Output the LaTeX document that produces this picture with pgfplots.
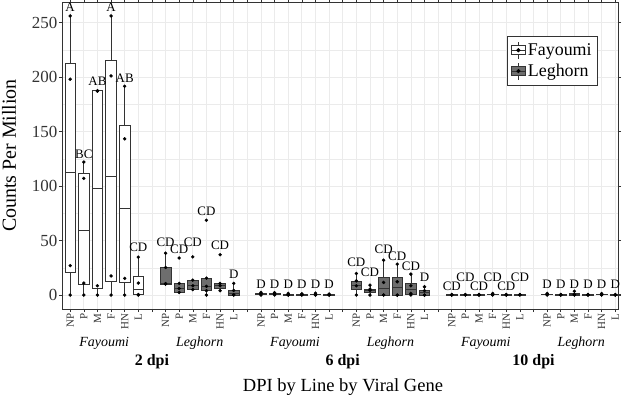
\documentclass[border=0pt]{standalone}
\usepackage{fontspec}
\setmainfont{Liberation Serif}
\usepackage{pgfplots}
\pgfplotsset{compat=1.18}
\usepgfplotslibrary{statistics}
\definecolor{gridc}{HTML}{EBEBEB}
\definecolor{boxc}{HTML}{333333}
\definecolor{legfill}{HTML}{6E6E6E}
\definecolor{txtc}{HTML}{333333}
\pgfplotsset{
  fbox/.style={draw=boxc, line width=0.7bp, fill=white, solid, mark=none},
  lbox/.style={draw=boxc, line width=0.7bp, fill=legfill, solid, mark=none},
  pts/.style={only marks, mark=*, mark size=1.5bp, black, mark options={fill=black, draw=black}},
}
% style, position, lower whisker, lower quartile, median, upper quartile, upper whisker
\newcommand{\bx}[7]{%
  \addplot[#1, boxplot/draw direction=y, boxplot prepared={draw position=#2, lower whisker=#3, lower quartile=#4,
    median=#5, upper quartile=#6, upper whisker=#7, box extend=0.78, whisker extend=0,
    every median/.style={line width=1.1bp}}] coordinates {};
}
\begin{document}
\begin{tikzpicture}
\begin{axis}[
  scale only axis, width=556bp, height=307bp,
  xmin=-0.6, xmax=40.2, ymin=-12.8, ymax=268.8,
  clip=false,
  axis line style={draw=boxc, line width=0.8bp},
  xtick={0,...,40},
  xticklabels={NP,P,M,F,HN,L,{},NP,P,M,F,HN,L,{},NP,P,M,F,HN,L,{},NP,P,M,F,HN,L,{},NP,P,M,F,HN,L,{},NP,P,M,F,HN,L},
  ytick={0,50,100,150,200,250},
  minor ytick={25,75,125,175,225},
  tick align=outside, major tick length=3bp, minor tick length=0bp,
  tick style={draw=boxc, line width=0.6bp},
  xmajorgrids, ymajorgrids, yminorgrids,
  major grid style={draw=gridc, line width=0.7bp},
  minor grid style={draw=gridc, line width=0.4bp},
  /pgf/number format/assume math mode=true,
  xticklabel style={rotate=90, anchor=east, font=\fontsize{11}{11}\selectfont, text=txtc, inner sep=1.5bp},
  yticklabel style={font=\fontsize{17}{17}\selectfont, text=txtc, inner sep=1.5bp},
  legend style={at={(0.964,0.889)}, anchor=north east,
    draw=boxc, line width=0.7bp, font=\fontsize{18}{20}\selectfont, inner xsep=4bp, inner ysep=5bp,
    row sep=3bp, /tikz/every even column/.append style={column sep=2bp}},
  legend cell align=left,
]
\addlegendimage{legend image code/.code={
  \draw[draw=boxc, line width=0.7bp] (8bp,-8.5bp) -- (8bp,8.5bp);
  \draw[draw=boxc, line width=0.7bp, fill=white] (1bp,-4.5bp) rectangle (15bp,4.5bp);
  \draw[draw=boxc, line width=1bp] (1bp,0bp) -- (15bp,0bp);
  \fill[black] (8bp,0bp) circle (1.7bp);}}
\addlegendentry{Fayoumi}
\addlegendimage{legend image code/.code={
  \draw[draw=boxc, line width=0.7bp] (8bp,-8.5bp) -- (8bp,8.5bp);
  \draw[draw=boxc, line width=0.7bp, fill=legfill] (1bp,-4.5bp) rectangle (15bp,4.5bp);
  \draw[draw=boxc, line width=1bp] (1bp,0bp) -- (15bp,0bp);
  \fill[black] (8bp,0bp) circle (1.7bp);}}
\addlegendentry{Leghorn}

% ---- 2 dpi Fayoumi
\bx{fbox}{0}{0}{20.5}{112.7}{212.8}{256}
\bx{fbox}{1}{0}{9.5}{59.5}{111.3}{122}
\bx{fbox}{2}{0}{6.4}{97.6}{187.4}{187.6}
\bx{fbox}{3}{0}{13}{109}{215}{256}
\bx{fbox}{4}{0}{11.6}{79.3}{155.5}{191.5}
\bx{fbox}{5}{0}{0.5}{5.5}{17}{34.8}
% ---- 2 dpi Leghorn
\bx{lbox}{7}{10}{10.2}{11}{25.3}{38.4}
\bx{lbox}{8}{2.4}{2.4}{6}{10.7}{10.7}
\bx{lbox}{9}{5}{5.5}{8.5}{13.7}{13.7}
\bx{lbox}{10}{0}{4}{8}{15.5}{15.5}
\bx{lbox}{11}{4}{6}{8.5}{10.7}{10.7}
\bx{lbox}{12}{0}{0}{1.5}{4.2}{10.7}
% ---- 6 dpi Fayoumi
\bx{fbox}{14}{0}{0.5}{1}{1.8}{2.5}
\bx{fbox}{15}{0}{0.4}{0.9}{1.6}{2.2}
\bx{fbox}{16}{0}{0.1}{0.3}{0.6}{1.5}
\bx{fbox}{17}{0}{0.1}{0.3}{0.5}{1.2}
\bx{fbox}{18}{0}{0.2}{0.5}{1.0}{1.8}
\bx{fbox}{19}{0}{0}{0.2}{0.4}{1.0}
% ---- 6 dpi Leghorn
\bx{lbox}{21}{0}{4.8}{8.5}{13}{19.8}
\bx{lbox}{22}{0}{2.4}{4}{5.5}{9.1}
\bx{lbox}{23}{0}{0}{5.8}{16.2}{32}
\bx{lbox}{24}{0}{0}{7}{16.2}{28.4}
\bx{lbox}{25}{0}{1}{5.5}{10.7}{19.2}
\bx{lbox}{26}{0}{0}{2.4}{4}{7.6}
% ---- 10 dpi Fayoumi
\bx{fbox}{28}{0}{0}{0.1}{0.3}{0.6}
\bx{fbox}{29}{0}{0}{0.1}{0.3}{0.6}
\bx{fbox}{30}{0}{0}{0.1}{0.3}{0.6}
\bx{fbox}{31}{0}{0.2}{0.5}{1.0}{1.5}
\bx{fbox}{32}{0}{0}{0.1}{0.3}{0.6}
\bx{fbox}{33}{0}{0}{0.1}{0.3}{0.6}
% ---- 10 dpi Leghorn
\bx{lbox}{35}{0}{0.2}{0.5}{1.0}{1.5}
\bx{lbox}{36}{0}{0}{0.1}{0.3}{0.6}
\bx{lbox}{37}{0}{0.1}{0.3}{1.2}{3.5}
\bx{lbox}{38}{0}{0}{0.1}{0.3}{0.6}
\bx{lbox}{39}{0}{0.2}{0.4}{0.9}{1.4}
\bx{lbox}{40}{0}{0}{0.1}{0.3}{0.6}

% ---- data points
\addplot[pts] coordinates {
 (0,0) (0,27) (0,198) (0,256)
 (1,0) (1,11) (1,107) (1,122)
 (2,0) (2,8.5) (2,187) (2,187.5)
 (3,0) (3,17.5) (3,201) (3,256)
 (4,0) (4,15.3) (4,143.3) (4,191.5)
 (5,0) (5,0.5) (5,11) (5,34.8)
};
\addplot[pts] coordinates {
 (7,10) (7,10.5) (7,25.3) (7,38.4)
 (8,2.4) (8,6) (8,10.7) (8,34)
 (9,5) (9,8.5) (9,13.7) (9,35)
 (10,0) (10,4) (10,8) (10,15.5) (10,68.6)
 (11,4) (11,8.5) (11,10.7) (11,37)
 (12,0) (12,0.3) (12,4.2) (12,10.7)
};
\addplot[pts] coordinates {
 (14,0) (14,1) (14,1.5) (14,2.5)
 (15,0) (15,0.8) (15,1.4) (15,2.2)
 (16,0) (16,0.2) (16,0.5) (16,1.5)
 (17,0) (17,0.2) (17,0.5) (17,1.2)
 (18,0) (18,0.4) (18,0.8) (18,1.8)
 (19,0) (19,0.1) (19,0.3) (19,1.0)
};
\addplot[pts] coordinates {
 (21,0) (21,8.5) (21,13) (21,19.8)
 (22,0) (22,4) (22,5.5) (22,9.1)
 (23,0) (23,0) (23,11.6) (23,32)
 (24,0) (24,0) (24,12.2) (24,28.4)
 (25,0) (25,1.5) (25,8.5) (25,19.2)
 (26,0) (26,0) (26,4) (26,7.6)
};
\addplot[pts] coordinates {
 (28,0) (28,0.2) (28,0.5)
 (29,0) (29,0.2) (29,0.5)
 (30,0) (30,0.2) (30,0.5)
 (31,0) (31,0.3) (31,0.8) (31,1.5)
 (32,0) (32,0.2) (32,0.5)
 (33,0) (33,0.2) (33,0.5)
};
\addplot[pts] coordinates {
 (35,0) (35,0.3) (35,0.8) (35,1.5)
 (36,0) (36,0.2) (36,0.5)
 (37,0) (37,0.2) (37,0.5) (37,3.5)
 (38,0) (38,0.2) (38,0.5)
 (39,0) (39,0.3) (39,0.6) (39,1.4)
 (40,0) (40,0.2) (40,0.5)
};

% ---- significance letters
\addplot[only marks, mark=none, nodes near coords, point meta=explicit symbolic,
  nodes near coords style={anchor=center, font=\fontsize{13}{13}\selectfont, text=black, inner sep=0pt}]
coordinates {
 (0,264)[A] (1,129)[BC] (2,196)[AB] (3,264)[A] (4,198.5)[AB] (5,43.6)[CD]
 (7,48.8)[CD] (8,42)[CD] (9,48.8)[CD] (10,77)[CD] (11,46)[CD] (12,19)[D]
 (14,10)[D] (15,10)[D] (16,10)[D] (17,10)[D] (18,10)[D] (19,10)[D]
 (21,30.5)[CD] (22,20.7)[CD] (23,42)[CD] (24,36)[CD] (25,26)[CD] (26,16)[D]
 (28,8.5)[CD] (29,16.5)[CD] (30,8.5)[CD] (31,16.5)[CD] (32,8.5)[CD] (33,16.5)[CD]
 (35,10)[D] (36,10)[D] (37,10)[D] (38,10)[D] (39,10)[D] (40,10)[D]
};

% ---- group labels
\node[font=\itshape\fontsize{14}{14}\selectfont, yshift=-34bp] at (axis cs:2.5,-12.8) {Fayoumi};
\node[font=\itshape\fontsize{14}{14}\selectfont, yshift=-34bp] at (axis cs:16.5,-12.8) {Fayoumi};
\node[font=\itshape\fontsize{14}{14}\selectfont, yshift=-34bp] at (axis cs:30.5,-12.8) {Fayoumi};
\node[font=\itshape\fontsize{14}{14}\selectfont, yshift=-34bp] at (axis cs:9.5,-12.8) {Leghorn};
\node[font=\itshape\fontsize{14}{14}\selectfont, yshift=-34bp] at (axis cs:23.5,-12.8) {Leghorn};
\node[font=\itshape\fontsize{14}{14}\selectfont, yshift=-34bp] at (axis cs:37.5,-12.8) {Leghorn};
\node[font=\bfseries\fontsize{16}{16}\selectfont, yshift=-52.7bp] at (axis cs:6,-12.8) {2 dpi};
\node[font=\bfseries\fontsize{16}{16}\selectfont, yshift=-52.7bp] at (axis cs:20,-12.8) {6 dpi};
\node[font=\bfseries\fontsize{16}{16}\selectfont, yshift=-52.7bp] at (axis cs:34,-12.8) {10 dpi};
\node[font=\fontsize{18.6}{19}\selectfont, yshift=-78bp, xshift=3bp] at (rel axis cs:0.5,0) {DPI by Line by Viral Gene};
\node[font=\fontsize{20}{20}\selectfont, rotate=90] at ([xshift=-53bp]rel axis cs:0,0.5) {Counts Per Million};
\end{axis}
\pgfresetboundingbox
\path ([shift={(-62bp,-92bp)}]current axis.south west) rectangle ([shift={(7bp,2bp)}]current axis.north east);
\end{tikzpicture}
\end{document}
